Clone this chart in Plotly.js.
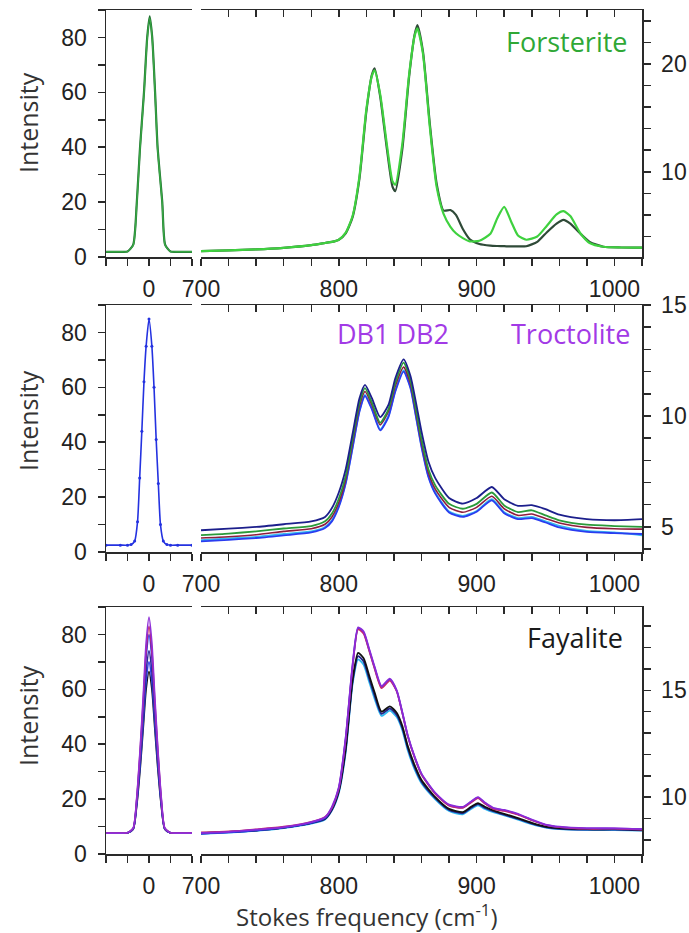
<!DOCTYPE html>
<html>
<head>
<meta charset="utf-8">
<script src="https://cdn.plot.ly/plotly-3.0.1.min.js"></script>
<style>html,body{margin:0;padding:0;background:#fff;}#chart{width:689px;height:933px;}</style>
</head>
<body>
<div id="chart"></div>
<script>
// ---------- Row 1 : Forsterite ----------
const r1LeftX = [-60,-40,-30,-22,-17,-12.5,-7,-2.5,1,4.5,8.5,12,18.5,22.5,30,40,60];
const r1LeftDark = [1.9,1.9,2.0,4.5,20,40,60,80,87.7,80,60,40,20,4.5,2.0,1.9,1.9];
const r1LeftLight = [1.9,1.9,2.0,4.3,19.5,39.5,59.5,79.5,87.0,79.5,59.5,39.5,19.5,4.3,2.0,1.9,1.9];

const r1X = [700,720,740,760,780,790,795,800,805,810,815,820,824,826,830,835,839,841,846,851,855,857,861,866,871,876,881,885,890,895,902,910,915,920,925,930,936,944,951,958,963,968,975,982,992,1005,1020];
const r1Light = [2.65,2.72,2.8,2.95,3.2,3.4,3.5,3.7,4.35,5.9,9.6,15.8,18.9,19.4,17.2,12.4,9.1,8.8,12.5,19.0,22.6,23.3,21.0,14.2,8.6,6.1,4.9,4.3,3.85,3.55,3.6,4.25,5.7,6.75,5.4,4.1,3.7,4.0,5.0,6.05,6.35,5.9,4.35,3.4,3.05,2.98,2.96];
const r1Dark = [2.65,2.72,2.8,2.95,3.2,3.4,3.5,3.7,4.3,5.8,9.4,15.6,19.0,19.6,17.0,12.0,8.6,8.2,12.0,18.8,22.7,23.6,21.2,14.5,8.9,6.4,6.45,6.0,4.7,3.75,3.3,3.15,3.12,3.1,3.08,3.08,3.1,3.5,4.4,5.2,5.55,5.2,4.3,3.5,3.05,2.98,2.96];

// ---------- Row 2 : Troctolite ----------
const r2LeftX = [-60,-40,-30,-25,-20,-16,-13,-10,-7,-4,0,4,7,10,13,16,20,25,30,40,60];
const r2LeftBlue = [2.5,2.5,2.5,2.7,4,11,27,44,62,75,84.9,75,60,41,25,10,4,2.7,2.5,2.5,2.5];

const r2X = [700,720,740,760,780,790,795,800,805,810,815,819,824,830,836,841,847,852,856,860,865,870,880,890,900,911,920,930,940,950,960,980,1000,1020];
const r2Navy = [4.85,4.92,5.0,5.12,5.25,5.45,5.85,6.55,7.6,9.2,10.8,11.4,10.8,9.95,10.5,11.7,12.55,11.8,10.6,9.3,7.95,7.2,6.3,6.05,6.3,6.8,6.25,5.95,5.98,5.8,5.55,5.35,5.3,5.35];
const r2Green = [4.63,4.70,4.80,4.93,5.04,5.25,5.6,6.27,7.3,8.96,10.6,11.25,10.6,9.7,10.3,11.5,12.4,11.6,10.3,8.96,7.6,6.87,6.04,5.82,6.04,6.55,5.97,5.67,5.75,5.52,5.3,5.1,5.04,5.0];
const r2Red = [4.5,4.56,4.65,4.8,4.92,5.12,5.45,6.1,7.15,8.8,10.45,11.1,10.5,9.6,10.2,11.35,12.2,11.45,10.15,8.8,7.45,6.7,5.88,5.66,5.88,6.38,5.82,5.52,5.58,5.38,5.18,4.98,4.92,4.9];
const r2Blue = [4.35,4.42,4.5,4.62,4.75,4.95,5.25,5.9,6.95,8.55,10.2,10.9,10.3,9.35,9.95,11.1,12.0,11.25,9.95,8.6,7.25,6.5,5.65,5.45,5.68,6.2,5.62,5.35,5.4,5.2,4.98,4.78,4.72,4.68];
const r2Cyan = [4.4,4.48,4.55,4.68,4.8,5.0,5.3,5.95,7.0,8.6,10.25,10.95,10.35,9.4,10.0,11.15,12.05,11.3,10.0,8.65,7.3,6.55,5.7,5.5,5.72,6.25,5.66,5.4,5.45,5.25,5.05,4.82,4.75,4.62];

// ---------- Row 3 : Fayalite ----------
const r3LeftX = [-60,-40,-30,-22,-17,-12,-8,-4,0,4,8,12,17,22,30,40,60];
const r3LeftPurple = [7.6,7.6,7.7,9.5,21,40,58,77,86.3,77,58,40,21,9.5,7.7,7.6,7.6];
const r3LeftRed = [7.6,7.6,7.7,9.4,20.5,39,56,74,83,74,56,39,20.5,9.4,7.7,7.6,7.6];
const r3LeftBlue = [7.6,7.6,7.7,9.3,20,37.5,54,71.5,80,71.5,54,37.5,20,9.3,7.7,7.6,7.6];
const r3LeftNavy = [7.6,7.6,7.7,9.2,19,35,50.5,66.5,74,66.5,50.5,35,19,9.2,7.7,7.6,7.6];
const r3LeftBlue2 = [7.6,7.6,7.7,9.1,18.3,33.5,48,63,70,63,48,33.5,18.3,9.1,7.7,7.6,7.6];
const r3LeftBlack = [7.6,7.6,7.7,9.0,17.8,32,46,60,66.5,60,46,32,17.8,9.0,7.7,7.6,7.6];

const r3X = [700,720,740,760,780,790,795,800,805,810,814,818,822,826,831,837,842,846,850,855,860,870,880,890,896,901,906,912,920,930,940,950,960,980,1000,1020];
const r3Purple = [8.33,8.38,8.48,8.6,8.83,9.06,9.55,10.47,12.8,16.2,17.95,17.75,16.95,16.1,15.2,15.55,15.0,14.0,12.9,11.9,11.1,10.2,9.65,9.55,9.8,10.0,9.75,9.5,9.4,9.22,8.95,8.72,8.62,8.55,8.55,8.5];
const r3Red = [8.35,8.4,8.5,8.62,8.85,9.08,9.5,10.4,12.7,16.1,17.85,17.65,16.85,16.0,15.1,15.45,14.95,13.95,12.85,11.85,11.05,10.15,9.6,9.5,9.75,9.95,9.7,9.45,9.35,9.18,8.92,8.7,8.6,8.52,8.52,8.48];
const r3Blue = [8.3,8.35,8.45,8.58,8.8,9.02,9.5,10.42,12.75,16.15,17.9,17.7,16.9,16.05,15.15,15.5,14.98,13.98,12.88,11.88,11.08,10.18,9.62,9.52,9.78,9.98,9.72,9.48,9.38,9.2,8.93,8.7,8.6,8.53,8.52,8.5];
const r3Black = [8.33,8.38,8.45,8.58,8.8,9.0,9.45,10.3,12.3,15.5,16.75,16.5,15.7,14.9,14.0,14.25,13.95,13.35,12.4,11.5,10.8,10.0,9.45,9.3,9.55,9.72,9.55,9.38,9.22,9.02,8.8,8.62,8.55,8.5,8.5,8.48];
const r3Navy = [8.3,8.36,8.44,8.57,8.78,8.98,9.4,10.25,12.2,15.4,16.6,16.35,15.55,14.75,13.9,14.15,13.85,13.25,12.3,11.4,10.72,9.95,9.4,9.25,9.5,9.68,9.5,9.35,9.18,8.98,8.76,8.6,8.52,8.48,8.48,8.45];
const r3Cyan = [8.28,8.34,8.42,8.55,8.76,8.96,9.38,10.2,12.1,15.3,16.45,16.2,15.4,14.6,13.8,14.05,13.75,13.15,12.2,11.3,10.65,9.9,9.35,9.2,9.45,9.62,9.45,9.3,9.15,8.95,8.74,8.58,8.5,8.46,8.46,8.44];

// ---------- Labels ----------
const yTitle = 'Intensity';
const xTitle = 'Stokes frequency (cm<sup>-1</sup>)';
const sampleNames = ['Forsterite', 'Troctolite', 'Fayalite'];
const bandLabel = 'DB1 DB2';
const leftTickVals = [0];
const leftTickText = ['0'];
const leftMinorVals = [-60, -30, 30, 60];

// ---------- Build ----------
const W = 689, H = 933;
const px = v => v / W;
const py = v => 1 - v / H;
const xL = [px(106), px(192)];
const xR = [px(201), px(642)];
const rowsPx = [[10, 257], [305, 552], [607, 854]];
const rightRanges = [[2.1, 25], [3.87, 15], [7.34, 18.9]];
const rightDtick = [10, 5, 5];
const rightMinor = [2, 1, 1];

const AX = '#2a2a2a';
const tickFont = {family: 'Liberation Sans, Arial, sans-serif', size: 23, color: '#222'};
const textFont = 'Open Sans, sans-serif';

function line(x, y, color, xa, ya, width, extra) {
  return Object.assign({
    type: 'scatter', mode: 'lines', x: x, y: y, xaxis: xa, yaxis: ya,
    line: {color: color, width: width || 1.8, shape: 'spline', smoothing: 0.6},
    hoverinfo: 'skip', showlegend: false
  }, extra || {});
}

const traces = [
  // row 1
  line(r1LeftX, r1LeftDark, '#1f6e30', 'x', 'y', 2.2),
  line(r1LeftX, r1LeftLight, '#39a845', 'x', 'y', 1.4),
  line(r1X, r1Dark, '#2f4a38', 'x2', 'y2', 2.2),
  line(r1X, r1Light, '#3fd13f', 'x2', 'y2', 2.2),
  // row 2
  line(r2LeftX, r2LeftBlue, '#2432e0', 'x4', 'y3', 1.6, {mode: 'lines+markers', marker: {size: 3, color: '#2432e0'}}),
  line(r2X, r2Cyan, '#35b8f0', 'x5', 'y4', 1.8),
  line(r2X, r2Blue, '#2a3cf0', 'x5', 'y4', 1.8),
  line(r2X, r2Red, '#8e1d3e', 'x5', 'y4', 1.6),
  line(r2X, r2Green, '#2a9a3a', 'x5', 'y4', 1.8),
  line(r2X, r2Navy, '#1c1f8c', 'x5', 'y4', 1.8),
  // row 3
  line(r3LeftX, r3LeftBlack, '#111111', 'x7', 'y5', 1.6),
  line(r3LeftX, r3LeftBlue2, '#3344ee', 'x7', 'y5', 1.6),
  line(r3LeftX, r3LeftNavy, '#2a2a9a', 'x7', 'y5', 1.6),
  line(r3LeftX, r3LeftBlue, '#2838e8', 'x7', 'y5', 1.6),
  line(r3LeftX, r3LeftRed, '#c0206a', 'x7', 'y5', 1.6),
  line(r3LeftX, r3LeftPurple, '#9030d8', 'x7', 'y5', 1.6),
  line(r3X, r3Cyan, '#30b8ee', 'x8', 'y6', 1.8),
  line(r3X, r3Navy, '#22228a', 'x8', 'y6', 1.8),
  line(r3X, r3Black, '#111111', 'x8', 'y6', 1.8),
  line(r3X, r3Blue, '#2c3ce8', 'x8', 'y6', 1.8),
  line(r3X, r3Red, '#c8286e', 'x8', 'y6', 1.6),
  line(r3X, r3Purple, '#8a2ad8', 'x8', 'y6', 1.8),
  // anchors for top axes
  {type: 'scatter', x: [], y: [], xaxis: 'x3', yaxis: 'y2', showlegend: false},
  {type: 'scatter', x: [], y: [], xaxis: 'x6', yaxis: 'y4', showlegend: false},
  {type: 'scatter', x: [], y: [], xaxis: 'x9', yaxis: 'y6', showlegend: false}
];

const layout = {
  width: W, height: H,
  margin: {l: 0, r: 0, t: 0, b: 0},
  paper_bgcolor: '#fff', plot_bgcolor: 'rgba(0,0,0,0)',
  showlegend: false,
  annotations: []
};

function axName(kind, n) { return kind + 'axis' + (n === 1 ? '' : n); }
function ref(kind, n) { return kind + (n === 1 ? '' : n); }

for (let r = 0; r < 3; r++) {
  const yd = [py(rowsPx[r][1]), py(rowsPx[r][0])];
  const xl = 3 * r + 1, xr = 3 * r + 2, xt = 3 * r + 3;
  const yl = 2 * r + 1, yr = 2 * r + 2;
  layout[axName('x', xl)] = {
    domain: xL, anchor: ref('y', yl), range: [-60, 60],
    tickmode: 'array', tickvals: leftTickVals, ticktext: leftTickText,
    ticks: 'outside', ticklen: 7, tickwidth: 1.5, tickcolor: AX,
    minor: {tickmode: 'array', tickvals: leftMinorVals, ticks: 'outside', ticklen: 7, tickwidth: 1.5, tickcolor: AX},
    showline: true, linecolor: AX, linewidth: 1.5, mirror: true,
    showgrid: false, zeroline: false, tickfont: tickFont, ticklabelstandoff: 4, fixedrange: true
  };
  layout[axName('y', yl)] = {
    domain: yd, anchor: ref('x', xl), range: [0, 90],
    tick0: 0, dtick: 20, ticks: 'outside', ticklen: 7, tickwidth: 1.5, tickcolor: AX,
    minor: {dtick: 10, ticks: 'outside', ticklen: 7, tickwidth: 1.5, tickcolor: AX},
    showline: true, linecolor: AX, linewidth: 1.5, showgrid: false, zeroline: false,
    tickfont: tickFont, ticklabelstandoff: 6, fixedrange: true
  };
  layout[axName('x', xr)] = {
    domain: xR, anchor: ref('y', yr), range: [700, 1020],
    tick0: 700, dtick: 100, ticks: 'outside', ticklen: 7, tickwidth: 1.5, tickcolor: AX,
    minor: {dtick: 20, ticks: 'outside', ticklen: 7, tickwidth: 1.5, tickcolor: AX},
    showline: true, linecolor: AX, linewidth: 1.5, showgrid: false, zeroline: false,
    tickfont: tickFont, ticklabelstandoff: 4, fixedrange: true
  };
  layout[axName('x', xt)] = {
    overlaying: ref('x', xr), anchor: ref('y', yr), side: 'top', range: [700, 1020],
    tick0: 700, dtick: 20, ticks: 'inside', ticklen: 7, tickwidth: 1.5, tickcolor: AX,
    showticklabels: false, showline: true, linecolor: AX, linewidth: 1.5,
    showgrid: false, zeroline: false, fixedrange: true
  };
  layout[axName('y', yr)] = {
    domain: yd, anchor: ref('x', xr), side: 'right', range: rightRanges[r],
    tick0: 0, dtick: rightDtick[r], ticks: 'outside', ticklen: 7, tickwidth: 1.5, tickcolor: AX,
    minor: {dtick: rightMinor[r], ticks: 'outside', ticklen: 7, tickwidth: 1.5, tickcolor: AX},
    showline: true, linecolor: AX, linewidth: 1.5, showgrid: false, zeroline: false,
    tickfont: tickFont, ticklabelstandoff: 6, fixedrange: true
  };
}

const intensityY = [123, 421, 716];
intensityY.forEach(yv => layout.annotations.push({
  text: yTitle, xref: 'paper', yref: 'paper', x: px(28), y: py(yv),
  xanchor: 'center', yanchor: 'middle', textangle: -90, showarrow: false,
  font: {family: textFont, size: 25, color: '#333'}
}));
layout.annotations.push({
  text: xTitle, xref: 'paper', yref: 'paper', x: px(367), y: py(915),
  xanchor: 'center', yanchor: 'middle', showarrow: false,
  font: {family: textFont, size: 24, color: '#333'}
});
layout.annotations.push({
  text: sampleNames[0], xref: 'paper', yref: 'paper', x: px(630), y: py(41),
  xanchor: 'right', yanchor: 'middle', showarrow: false,
  font: {family: textFont, size: 27, color: '#2fa836'}
});
layout.annotations.push({
  text: sampleNames[1], xref: 'paper', yref: 'paper', x: px(632), y: py(333),
  xanchor: 'right', yanchor: 'middle', showarrow: false,
  font: {family: textFont, size: 27, color: '#a23ae6'}
});
layout.annotations.push({
  text: bandLabel, xref: 'paper', yref: 'paper', x: px(393), y: py(333),
  xanchor: 'center', yanchor: 'middle', showarrow: false,
  font: {family: textFont, size: 27, color: '#a23ae6'}
});
layout.annotations.push({
  text: sampleNames[2], xref: 'paper', yref: 'paper', x: px(625), y: py(637),
  xanchor: 'right', yanchor: 'middle', showarrow: false,
  font: {family: textFont, size: 27, color: '#1a1a1a'}
});

Plotly.newPlot('chart', traces, layout, {staticPlot: true, displayModeBar: false});
</script>
</body>
</html>
